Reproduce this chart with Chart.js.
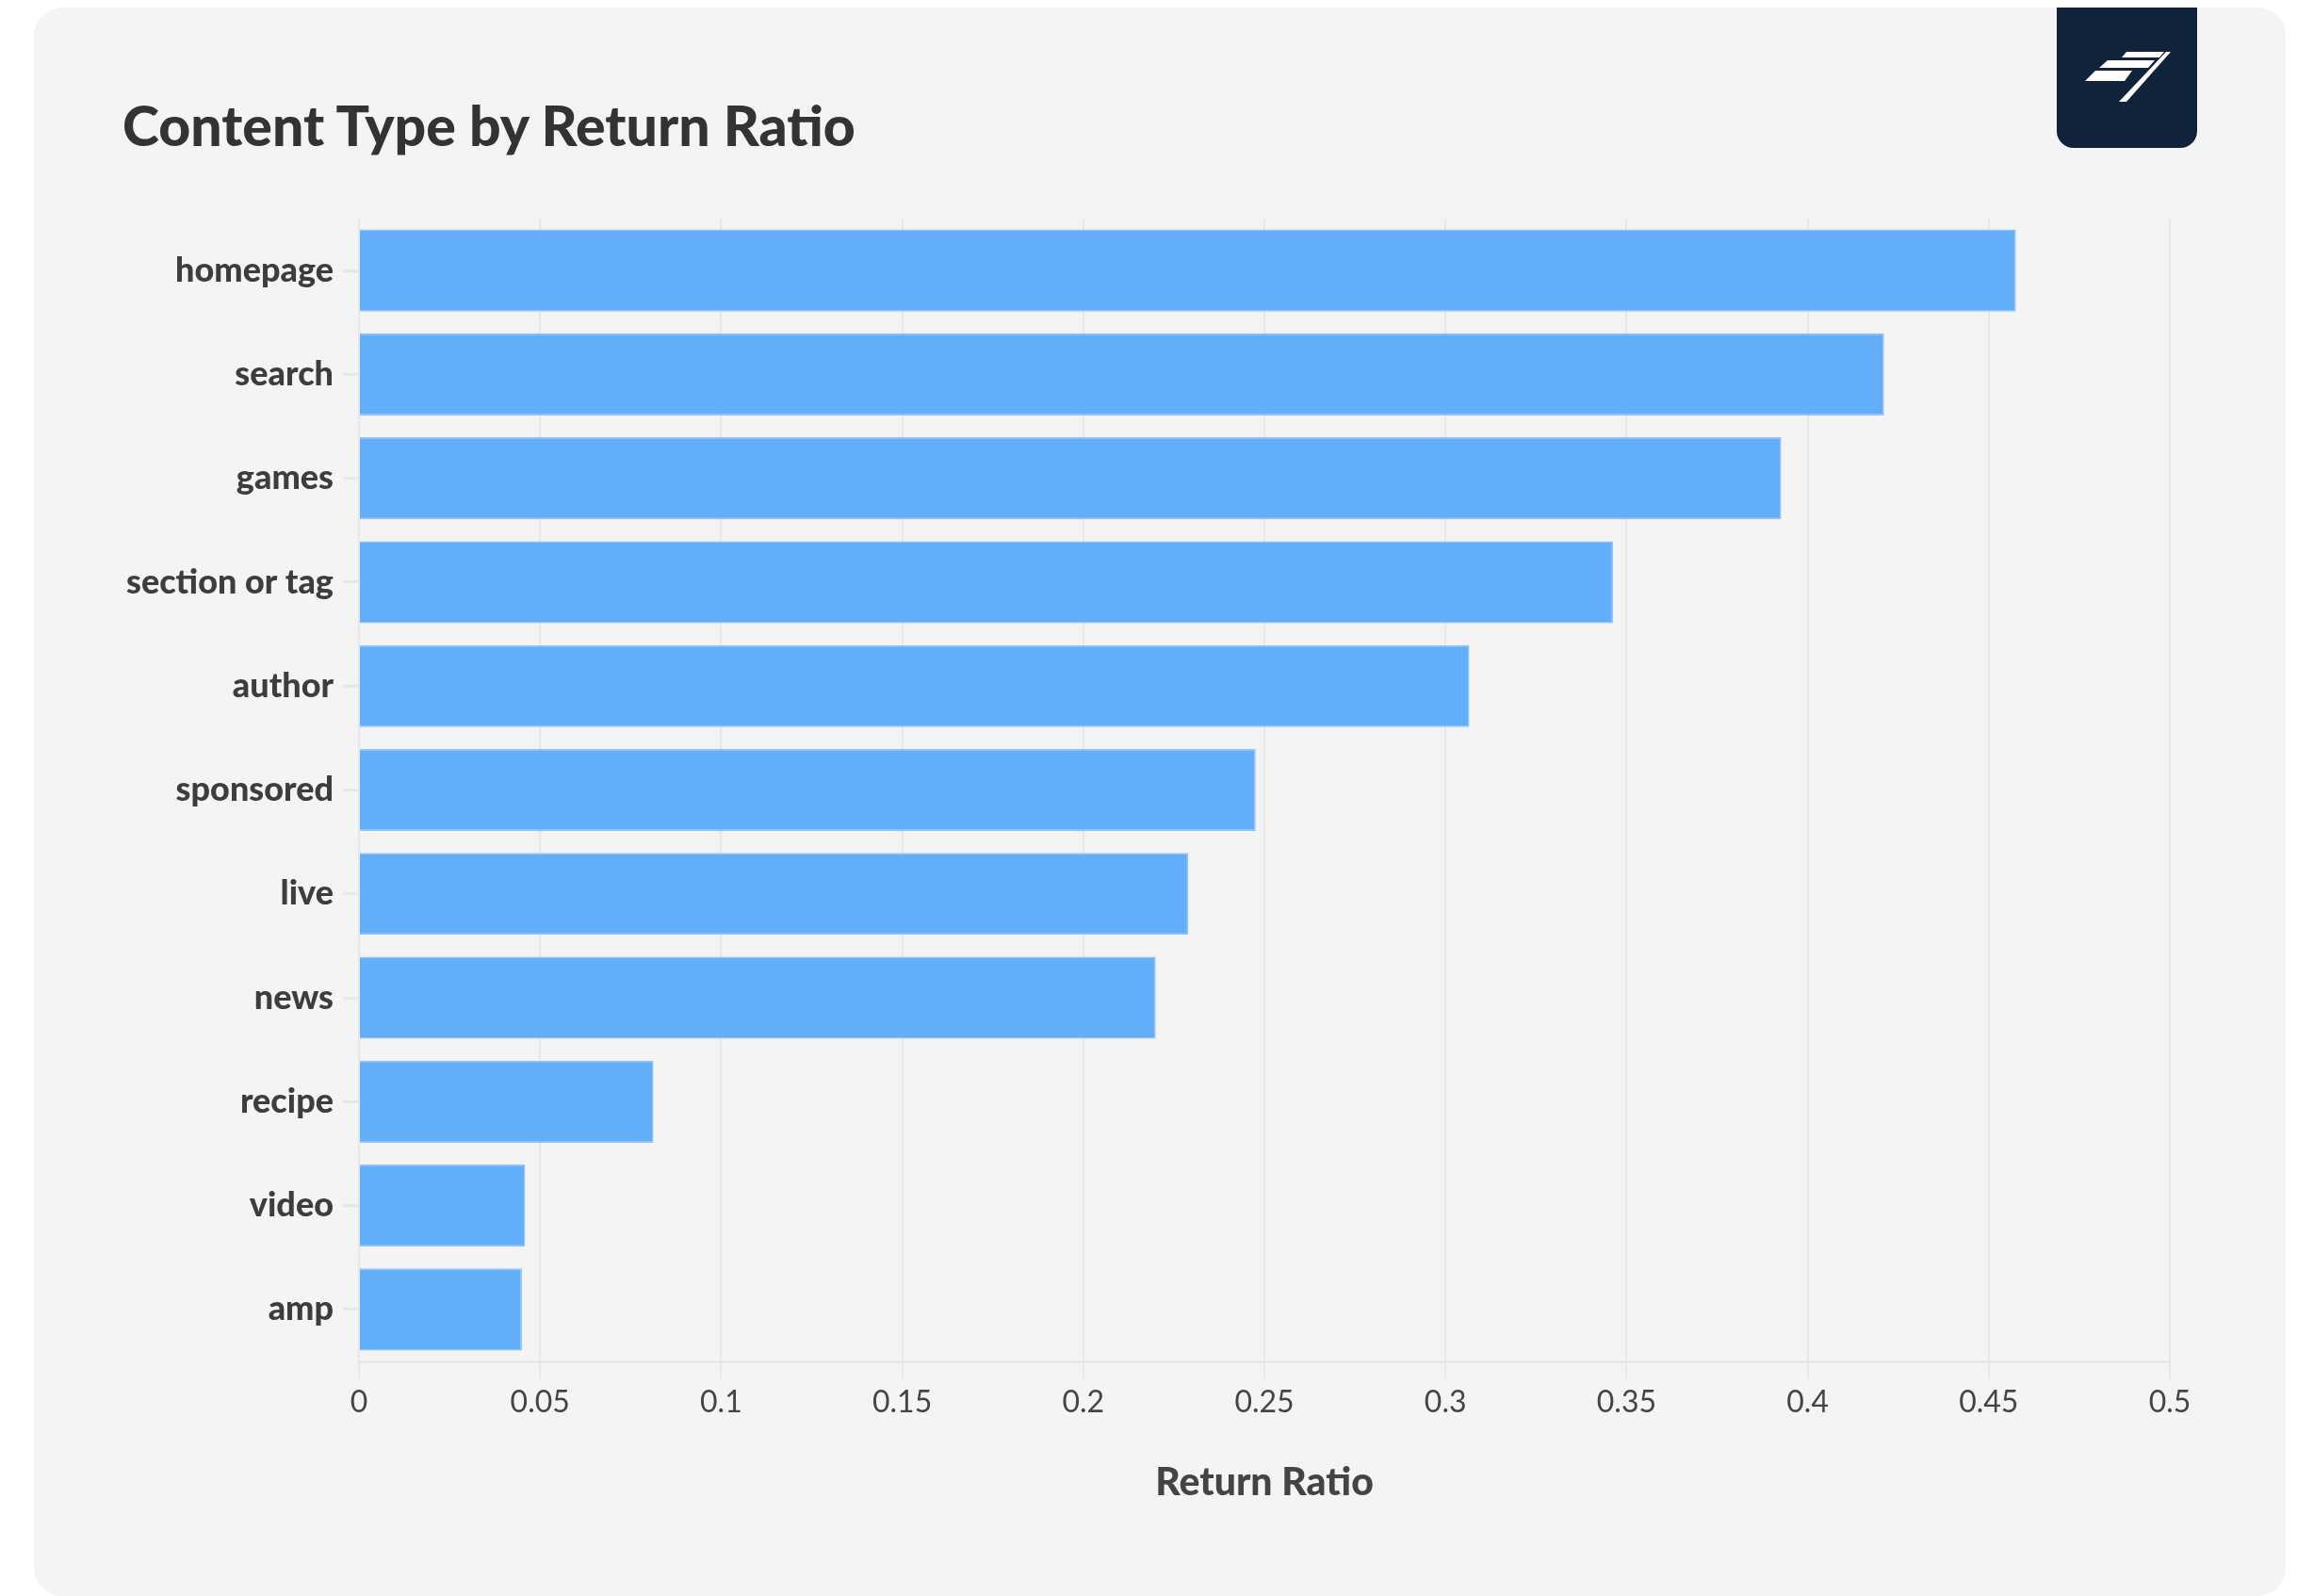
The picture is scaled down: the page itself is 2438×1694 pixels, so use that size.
<!DOCTYPE html>
<html>
<head>
<meta charset="utf-8">
<script src="https://cdn.jsdelivr.net/npm/chart.js@4/dist/chart.umd.min.js"></script>
<style>
  html, body { margin: 0; padding: 0; background: #ffffff; }
  body { width: 2438px; height: 1694px; position: relative; overflow: hidden; font-family: Lato, "Noto Sans", sans-serif; }
  .card { position: absolute; left: 36px; top: 8px; width: 2390px; height: 1686px; background: #f4f4f4; border-radius: 30px; }
  .title { position: absolute; left: 130px; top: 103px; margin: 0; font-size: 59px; font-weight: 900; color: #333333; line-height: 1; }
  .logo { position: absolute; left: 2183px; top: 8px; width: 149px; height: 149px; background: #10233a; border-radius: 0 0 18px 18px; }
  #chart { position: absolute; left: 0; top: 0; }
</style>
</head>
<body>
<div class="card"></div>
<h1 class="title">Content Type by Return Ratio</h1>
<div class="logo">
  <svg width="149" height="149" viewBox="0 0 149 149">
    <polygon points="74,47 114,47 109,53 69,53" fill="#ffffff"/>
    <polygon points="54,56 104,56 97,64 45,64" fill="#ffffff"/>
    <polygon points="41,67 80,67 72,78 30,78" fill="#ffffff"/>
    <polygon points="116,47 121,47 74,100 66,100" fill="#ffffff"/>
  </svg>
</div>
<canvas id="chart" width="2438" height="1694"></canvas>
<script>
const categories = ["homepage", "search", "games", "section or tag", "author", "sponsored", "live", "news", "recipe", "video", "amp"];
const returnRatio = [0.4575, 0.4211, 0.3927, 0.3463, 0.3066, 0.2476, 0.2290, 0.2200, 0.0813, 0.0459, 0.0450];
const xTickLabels = ["0", "0.05", "0.1", "0.15", "0.2", "0.25", "0.3", "0.35", "0.4", "0.45", "0.5"];

const ctx = document.getElementById("chart").getContext("2d");

new Chart(ctx, {
    type: "bar",
    data: {
        labels: categories,
        datasets: [{
            label: "Return Ratio",
            data: returnRatio,
            backgroundColor: "#63aef9",
            borderColor: "#8dc3fa",
            borderWidth: 1.5,
            categoryPercentage: 1,
            barPercentage: 0.79
        }]
    },
    options: {
        indexAxis: "y",
        responsive: false,
        animation: false,
        devicePixelRatio: 1,
        layout: { padding: { left: 0, right: 135, top: 232, bottom: 0 } },
        plugins: {
            legend: { display: false },
            tooltip: { enabled: false }
        },
        scales: {
            x: {
                min: 0,
                max: 0.5,
                ticks: {
                    stepSize: 0.05,
                    padding: 6,
                    color: "#444444",
                    font: { family: "Lato", size: 32 },
                    callback: (value, index) => xTickLabels[index]
                },
                grid: { color: "#e7e7e7", lineWidth: 2, tickLength: 18 },
                border: { display: true, color: "#e7e7e7", width: 3 },
                title: {
                    display: true,
                    text: "Return Ratio",
                    color: "#444444",
                    font: { family: "Lato", size: 41, weight: "900" },
                    padding: { top: 0, bottom: 96 }
                },
                afterFit: scale => { scale.height = 249; }
            },
            y: {
                ticks: {
                    padding: 10,
                    color: "#3d3d3d",
                    font: { family: "Lato", size: 36, weight: "900" }
                },
                grid: { drawOnChartArea: false, offset: false, color: "#e7e7e7", lineWidth: 3, tickLength: 17 },
                border: { display: false },
                afterFit: scale => { scale.width = 381; }
            }
        }
    }
});
</script>
</body>
</html>
